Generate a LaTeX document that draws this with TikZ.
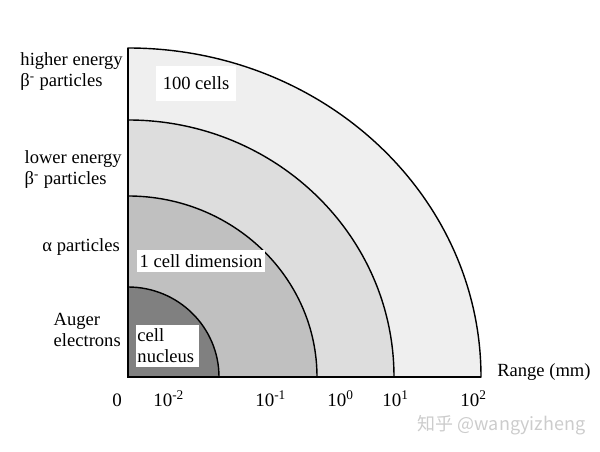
\documentclass[tikz,border=0pt]{standalone}
\usepackage{fontspec}
\setmainfont{Liberation Serif}
\newfontfamily\cjkfont{Noto Sans CJK SC}
\usetikzlibrary{positioning}

\definecolor{zoneA}{HTML}{EFEFEF}
\definecolor{zoneB}{HTML}{DDDDDD}
\definecolor{zoneC}{HTML}{C0C0C0}
\definecolor{zoneD}{HTML}{808080}

\begin{document}
\begin{tikzpicture}[
    x=0.025cm, y=0.025cm,
    zone/.style={draw=black, line width=1pt},
    lbl/.style={font=\fontsize{13.2}{15}\selectfont, align=left, inner sep=0pt},
    tag/.style={fill=white, font=\fontsize{13.2}{15}\selectfont, inner sep=0pt},
    tick/.style={font=\fontsize{13.5}{15}\selectfont, inner sep=0pt, anchor=base west}
]
\useasboundingbox (0,0) rectangle (600,452);
\coordinate (O) at (128,75);
\coordinate (top) at (128,404);
\coordinate (right) at (481,75);

% ranges, outer to inner
\filldraw[zone, fill=zoneA] (O) -- ++(353,0) arc[start angle=0, end angle=90, x radius=353, y radius=329] -- cycle;
\filldraw[zone, fill=zoneB] (O) -- ++(266,0) arc[start angle=0, end angle=90, x radius=266, y radius=257] -- cycle;
\filldraw[zone, fill=zoneC] (O) -- ++(189,0) arc[start angle=0, end angle=90, x radius=189, y radius=181] -- cycle;
\filldraw[zone, fill=zoneD] (O) -- ++(91,0) arc[start angle=0, end angle=90, x radius=91, y radius=90] -- cycle;
\draw[zone] (top) -- (O) -- (right);

% boxes inside
\node[tag, minimum width=2cm, minimum height=0.875cm] (cells) at (196,368.5) {100 cells};
\node[tag, minimum width=3.2cm, minimum height=0.55cm] (celldim) at (201,191) {1 cell dimension};
\node[tag, minimum width=1.575cm, minimum height=1.05cm, align=left, text width=1.5cm] (nucleus) at (167.5,106) {cell\\nucleus};

% particle labels
\node[lbl, anchor=east] (hibeta) at (123,380.5) {higher energy\\β\textsuperscript{-} particles};
\node[lbl, anchor=east] (lobeta) at (122,282.5) {lower energy\\β\textsuperscript{-} particles};
\node[lbl, anchor=east] (alpha) at (120,205) {α particles};
\node[lbl, anchor=east] (auger) at (121,122) {Auger\\electrons};
\node[lbl, anchor=west] (range) at (497,80) {Range (mm)};

% axis values
\node[tick] (t0) at (112,45) {0};
\node[tick] (t1) at (153,45) {10\textsuperscript{-2}};
\node[tick] (t2) at (255,45) {10\textsuperscript{-1}};
\node[tick] (t3) at (327,45) {10\textsuperscript{0}};
\node[tick] (t4) at (382,45) {10\textsuperscript{1}};
\node[tick] (t5) at (460,45) {10\textsuperscript{2}};

\node[font=\cjkfont\fontsize{12.8}{14}\selectfont, text=gray!40, inner sep=0pt] (mark) at (501.5,27) {知乎 @wangyizheng};
\end{tikzpicture}
\end{document}
